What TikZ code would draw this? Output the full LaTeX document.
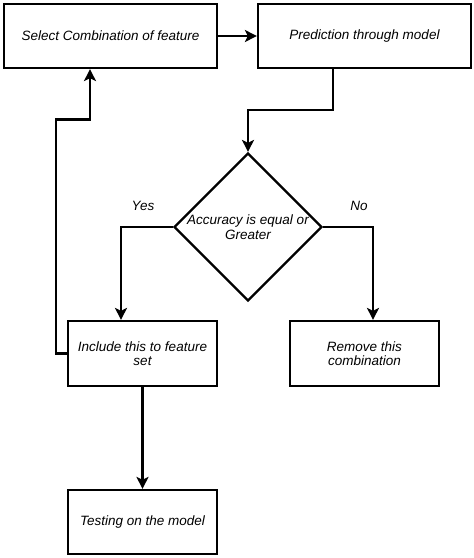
\documentclass[tikz,border=0pt]{standalone}
\usepackage{fontspec}
\setmainfont{Liberation Sans}
\usetikzlibrary{arrows.meta,shapes.geometric}

\begin{document}
\begin{tikzpicture}[x=1pt, y=-1pt, font=\fontsize{13.5}{14.5}\selectfont\itshape]
    \tikzset{box/.style={draw, line width=2.2pt, align=center, inner sep=2pt},
             decision/.style={draw, diamond, line width=2.2pt, inner sep=0pt,
                              minimum width=148pt, minimum height=148pt},
             arr/.style={line width=2.2pt, -{Stealth[length=12pt, width=12pt, inset=3pt]}}}
    \useasboundingbox (0,0) rectangle (474,558);

    % Top row
    \node[box, minimum width=213pt, minimum height=64pt] (sel) at (110.5,36) {Select Combination of feature};
    \node[box, minimum width=213pt, minimum height=64pt] (pred) at (364.5,36) {Prediction through model};

    % Decision
    \node[decision] (acc) at (248,227) {};
    \node[align=center] (acctext) at (acc.center) {Accuracy is equal or\\Greater};
    \node (yes) at (143,206) {Yes};
    \node (no) at (359,206) {No};

    % Outcomes
    \node[box, minimum width=149pt, minimum height=65pt] (incl) at (142.5,353.5) {Include this to feature\\set};
    \node[box, minimum width=149pt, minimum height=65pt] (rem) at (364.5,353.5) {Remove this\\combination};
    \node[box, minimum width=149pt, minimum height=64pt] (test) at (142.5,522) {Testing on the model};

    % Connectors
    \draw[arr] (sel.east) -- (pred.west);
    \draw[arr] ([xshift=-31.5pt]pred.south) -- ++(0,41) -| (acc.north);
    \draw[arr] (acc.west) -| ([xshift=-21.5pt]incl.north);
    \draw[arr] (acc.east) -| ([xshift=8.5pt]rem.north);
    \draw[arr] (incl.west) -- ++(-11,0) -- ++(0,-234) -| ([xshift=-20.5pt]sel.south);
    \draw[arr] (incl.south) -- (test.north);

\end{tikzpicture}
\end{document}
